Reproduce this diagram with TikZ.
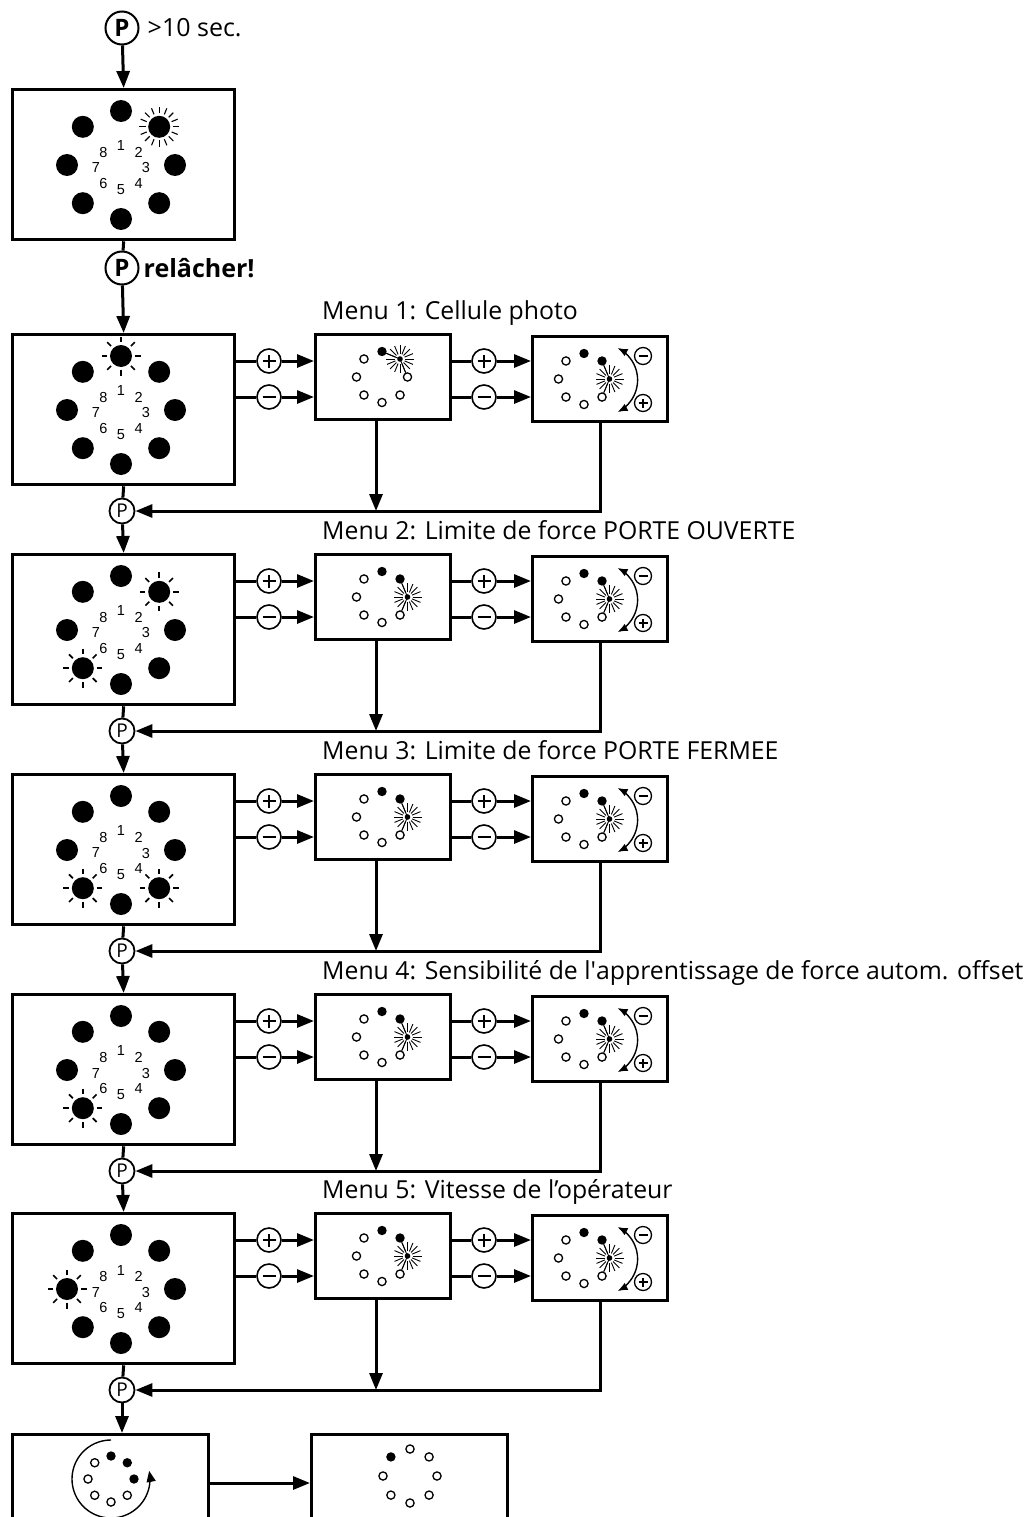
\documentclass[tikz,border=0pt]{standalone}
\usepackage{fontspec}
\setmainfont{Open Sans}
\newfontfamily\numfont{Liberation Sans}
\usetikzlibrary{arrows.meta}
\tikzset{
 mainbox/.style={draw, line width=3.3pt, minimum width=222pt, minimum height=150pt, anchor=north west, inner sep=0pt},
 smallbox/.style={draw, line width=3pt, minimum width=135pt, minimum height=85pt, anchor=north west, inner sep=0pt},
 cutbox/.style={draw, line width=3.3pt, minimum width=196pt, minimum height=150pt, anchor=north west, inner sep=0pt},
 conn/.style={line width=3pt},
 arr/.style={line width=3pt, -{Triangle[length=17pt,width=13pt]}},
 pmcirc/.style={circle, draw, line width=1.6pt, minimum size=24pt, inner sep=0pt},
 pmsmall/.style={circle, draw, line width=1.3pt, minimum size=17pt, inner sep=0pt},
 pbig/.style={circle, draw, line width=2pt, minimum size=33pt, inner sep=0pt, font=\fontsize{24}{24}\selectfont\bfseries},
 psmall/.style={circle, draw, line width=1.8pt, minimum size=25pt, inner sep=0pt, font=\fontsize{19}{19}\selectfont},
 menulabel/.style={anchor=base west, inner sep=0pt, font=\fontsize{24.8}{24.8}\selectfont},
 toptext/.style={anchor=base west, inner sep=0pt, font=\fontsize{25}{25}\selectfont},
 numtxt/.style={inner sep=0pt, font=\numfont\fontsize{14.5}{14.5}\selectfont},
 signline/.style={line width=1.6pt},
 opendot/.style={draw, line width=1.3pt, fill=white},
 ray/.style={line width=1.6pt},
 fineray/.style={line width=0.9pt},
 arcarr/.style={line width=1.4pt, {Latex[length=10pt,width=8pt]}-{Latex[length=10pt,width=8pt]}},
}
% big ring of 8 dots with numbers
\newcommand\bigdots[2]{%
 \foreach \k in {1,...,8}{%
  \fill ({#1+54*cos(45*\k-135)},{#2+54*sin(45*\k-135)}) circle (11);
  \node[numtxt] at ({#1+25*cos(45*\k-135)},{#2+3+22*sin(45*\k-135)}) {\k};
 }}
\newcommand\bigsun[3]{%
 \foreach \r in {0,45,...,315}
  \draw[ray] ({#1+54*cos(45*#3-135)+14*cos(\r)},{#2+54*sin(45*#3-135)+14*sin(\r)}) -- ({#1+54*cos(45*#3-135)+19.5*cos(\r)},{#2+54*sin(45*#3-135)+19.5*sin(\r)});
}
\newcommand\bigsunmany[3]{%
 \foreach \r in {0,22.5,...,337.5}
  \draw[line width=1.1pt] ({#1+54*cos(45*#3-135)+13.5*cos(\r)},{#2+54*sin(45*#3-135)+13.5*sin(\r)}) -- ({#1+54*cos(45*#3-135)+20*cos(\r)},{#2+54*sin(45*#3-135)+20*sin(\r)});
}
% small dots
\newcommand\sdot[4]{\draw[opendot] ({#1+#3*cos(45*#4-135)},{#2+#3*sin(45*#4-135)}) circle (4.1);}
\newcommand\fdot[4]{\fill ({#1+#3*cos(45*#4-135)},{#2+#3*sin(45*#4-135)}) circle (4.7);}
\newcommand\smallsun[2]{%
 \foreach \r in {0,22.5,...,337.5}
  \draw[fineray] ({#1+5*cos(\r)},{#2+5*sin(\r)}) -- ({#1+14*cos(\r)},{#2+14*sin(\r)});
 \fill ({#1},{#2}) circle (2.8);}
\newcommand\ringA[2]{%
 \draw[fineray] ({#1},{#2-25.5}) -- ({#1+18},{#2-18}) -- ({#1+25.5},{#2});
 \foreach \k in {3,...,8} {\sdot{#1}{#2}{25.5}{\k}}
 \fdot{#1}{#2}{25.5}{1}
 \smallsun{#1+18}{#2-18}}
\newcommand\ringB[2]{%
 \draw[fineray] ({#1+18},{#2-18}) -- ({#1+25.5},{#2}) -- ({#1+18},{#2+18});
 \foreach \k in {4,...,8} {\sdot{#1}{#2}{25.5}{\k}}
 \fdot{#1}{#2}{25.5}{1}\fdot{#1}{#2}{25.5}{2}
 \smallsun{#1+25.5}{#2}}
\newcommand\plussign[2]{%
 \draw[signline] ([xshift=-#2pt]#1.center) -- ([xshift=#2pt]#1.center);
 \draw[signline] ([yshift=-#2pt]#1.center) -- ([yshift=#2pt]#1.center);}
\newcommand\minussign[2]{%
 \draw[signline] ([xshift=-#2pt]#1.center) -- ([xshift=#2pt]#1.center);}
% one menu row: #1 top y, #2 id, #3 label, #4 suns, #5 ring macro of middle box
\newcommand\menublock[5]{%
 \node[mainbox] (main#2) at (11,#1) {};
 \bigdots{121}{#1+77}
 \foreach \s in {#4} {\bigsun{121}{#1+77}{\s}}
 \node[menulabel] (lab#2) at (322,#1-14) {#3};
 \node[pmcirc] (pa#2) at (269,#1+28) {};
 \node[pmcirc] (ma#2) at (269,#1+64) {};
 \plussign{pa#2}{6.5}\minussign{ma#2}{6.5}
 \node[smallbox] (mid#2) at (314,#1) {};
 #5{382}{#1+44}
 \node[pmcirc] (pb#2) at (484,#1+28) {};
 \node[pmcirc] (mb#2) at (484,#1+64) {};
 \plussign{pb#2}{6.5}\minussign{mb#2}{6.5}
 \node[smallbox] (rt#2) at (531,#1+2) {};
 \ringB{584}{#1+46}
 \draw[arcarr] plot[smooth, samples=25, domain=-64:64] ({602+35.6*cos(\x)},{#1+47+35.6*sin(\x)});
 \node[pmsmall] (mc#2) at (643,#1+23) {};
 \node[pmsmall] (pc#2) at (643,#1+70) {};
 \begin{scope}[signline/.style={line width=1.2pt}]
 \minussign{mc#2}{4.5}\plussign{pc#2}{4.5}
 \end{scope}
 \node[psmall] (P#2) at (122,#1+178) {P};
 \draw[conn] (main#2.east |- pa#2) -- (pa#2);
 \draw[arr] (pa#2) -- (pa#2 -| mid#2.west);
 \draw[conn] (main#2.east |- ma#2) -- (ma#2);
 \draw[arr] (ma#2) -- (ma#2 -| mid#2.west);
 \draw[conn] (mid#2.east |- pb#2) -- (pb#2);
 \draw[arr] (pb#2) -- (pb#2 -| rt#2.west);
 \draw[conn] (mid#2.east |- mb#2) -- (mb#2);
 \draw[arr] (mb#2) -- (mb#2 -| rt#2.west);
 \coordinate (md#2) at ([xshift=-7pt]mid#2.south);
 \draw[arr] (md#2) -- (md#2 |- P#2);
 \draw[arr] (rt#2.south) |- (P#2);
 \draw[conn] (main#2.south) -- (P#2);
}
\begin{document}
\begin{tikzpicture}[x=1pt,y=-1pt]
\useasboundingbox (0,0) rectangle (1031,1517);
\fill[white] (0,0) rectangle (1031,1517);
\clip (0,0) rectangle (1031,1517);
% top
\node[pbig] (P0) at (122,28) {P};
\node[toptext] (t10) at ([xshift=8pt,yshift=-9pt]P0.east) {>10 sec.};
\node[mainbox] (main0) at (11,88) {};
\bigdots{121}{165}
\bigsunmany{121}{165}{2}
\draw[arr] (P0) -- (main0.north);
\node[pbig] (P00) at (122,268) {P};
\node[toptext, font=\fontsize{25}{25}\selectfont\bfseries] (rel) at ([xshift=4pt,yshift=-9pt]P00.east) {relâcher!};
\draw[conn] (main0.south) -- (P00);
% menus
\menublock{333}{1}{Menu 1: Cellule photo}{1}{\ringA}
\menublock{553}{2}{Menu 2: Limite de force PORTE OUVERTE}{2,6}{\ringB}
\menublock{773}{3}{Menu 3: Limite de force PORTE FERMEE}{4,6}{\ringB}
\menublock{993}{4}{Menu 4: Sensibilité de l\textquotesingle apprentissage de force autom. offset}{6}{\ringB}
\menublock{1212}{5}{Menu 5: Vitesse de l’opérateur}{7}{\ringB}
\draw[arr] (P00) -- (main1.north);
\draw[arr] (P1) -- (main2.north);
\draw[arr] (P2) -- (main3.north);
\draw[arr] (P3) -- (main4.north);
\draw[arr] (P4) -- (main5.north);
% bottom
\node[cutbox] (bl) at (11,1433) {};
\node[cutbox] (br) at (310,1433) {};
\draw[arr] (P5) -- (P5 |- bl.north);
\coordinate (bo) at ([yshift=-50pt]bl.north east);
\draw[arr] (bo) -- (bo -| br.west);
\foreach \k in {4,...,8} {\sdot{111}{1479}{23}{\k}}
\foreach \k in {1,2,3} {\fdot{111}{1479}{23}{\k}}
\draw[line width=1.4pt, -{Triangle[length=11pt,width=9pt]}] plot[smooth, samples=60, domain=0:282] ({111+39*cos(-90-\x)},{1479+39*sin(-90-\x)});
\foreach \k in {1,...,7} {\sdot{410}{1476}{27}{\k}}
\fdot{410}{1476}{27}{8}
\end{tikzpicture}
\end{document}
